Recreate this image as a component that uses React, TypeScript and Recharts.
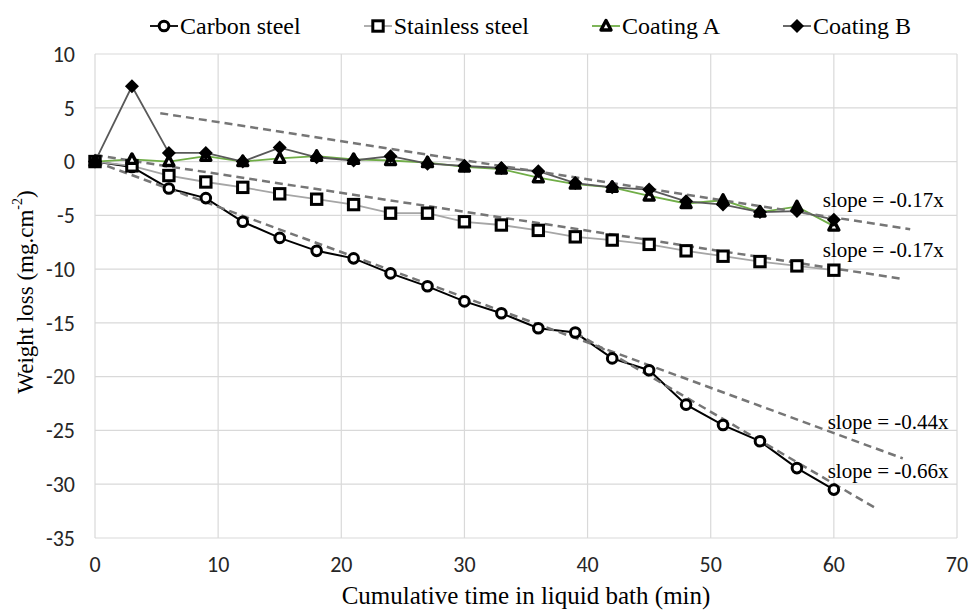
import {
  LineChart,
  Line,
  XAxis,
  YAxis,
  CartesianGrid,
  ReferenceDot,
  Label,
} from 'recharts'

// time (min) at each weighing
const times = [0, 3, 6, 9, 12, 15, 18, 21, 24, 27, 30, 33, 36, 39, 42, 45, 48, 51, 54, 57, 60]

// weight loss (mg.cm-2)
const carbonSteel = [0, -0.5, -2.5, -3.4, -5.6, -7.1, -8.3, -9.0, -10.4, -11.6, -13.0, -14.1, -15.5, -15.9, -18.3, -19.4, -22.6, -24.5, -26.0, -28.5, -30.5]
const stainlessSteel = [0, -0.4, -1.3, -1.9, -2.4, -3.0, -3.5, -4.0, -4.8, -4.8, -5.6, -5.9, -6.4, -7.0, -7.3, -7.7, -8.3, -8.8, -9.3, -9.7, -10.1]
const coatingA = [0, 0.2, 0.0, 0.5, 0.0, 0.3, 0.5, 0.2, 0.1, -0.1, -0.5, -0.7, -1.5, -2.1, -2.4, -3.2, -3.9, -3.6, -4.7, -4.2, -6.0]
const coatingB = [0, 7.0, 0.8, 0.8, 0.0, 1.3, 0.4, 0.1, 0.5, -0.2, -0.4, -0.6, -0.9, -2.0, -2.4, -2.6, -3.7, -4.0, -4.7, -4.6, -5.4]

// trendline end points (x, y)
const trendCoatings = [{ x: 5.3, y: 4.5 }, { x: 66.2, y: -6.3 }]
const trendStainless = [{ x: 0, y: 0.6 }, { x: 65.5, y: -10.9 }]
const trendCarbonEarly = [{ x: 0, y: 0 }, { x: 65.6, y: -27.6 }]
const trendCarbonLate = [{ x: 39, y: -15.9 }, { x: 63.5, y: -32.3 }]

const slopeTexts = ['slope = -0.17x', 'slope = -0.17x', 'slope = -0.44x', 'slope = -0.66x']

const xTicks = [0, 10, 20, 30, 40, 50, 60, 70]
const yTicks = [10, 5, 0, -5, -10, -15, -20, -25, -30, -35]

const rows = times.map((t, i) => ({
  x: t,
  carbon: carbonSteel[i],
  stainless: stainlessSteel[i],
  coatingA: coatingA[i],
  coatingB: coatingB[i],
}))

// where the slope notes sit, in data units
const slopeSpots = [
  { x: 59.1, y: -3.6 },
  { x: 59.1, y: -8.2 },
  { x: 59.5, y: -24.2 },
  { x: 59.5, y: -28.75 },
]

const SERIF = '"Liberation Serif", "Times New Roman", serif'
const SANS = 'Carlito, "Open Sans", sans-serif'
const TREND = '#767676'

const CircleMark = ({ cx, cy }: any) => (
  <circle cx={cx} cy={cy} r={4.8} fill="#fff" stroke="#000" strokeWidth={3} />
)
const SquareMark = ({ cx, cy }: any) => (
  <rect x={cx - 5.2} y={cy - 5.2} width={10.4} height={10.4} fill="#fff" stroke="#000" strokeWidth={3} />
)
const TriangleMark = ({ cx, cy }: any) => (
  <polygon
    points={`${cx},${cy - 5.5} ${cx + 5},${cy + 4} ${cx - 5},${cy + 4}`}
    fill="#fff"
    stroke="#000"
    strokeWidth={3.4}
    strokeLinejoin="round"
  />
)
const DiamondMark = ({ cx, cy }: any) => (
  <polygon points={`${cx},${cy - 7} ${cx + 7},${cy} ${cx},${cy + 7} ${cx - 7},${cy}`} fill="#000" />
)

const series = [
  { key: 'carbon', name: 'Carbon steel', color: '#000000', width: 2, Mark: CircleMark },
  { key: 'stainless', name: 'Stainless steel', color: '#a6a6a6', width: 1.8, Mark: SquareMark },
  { key: 'coatingA', name: 'Coating A', color: '#70ad47', width: 1.8, Mark: TriangleMark },
  { key: 'coatingB', name: 'Coating B', color: '#595959', width: 1.8, Mark: DiamondMark },
]

const LegendRow = () => (
  <div
    style={{
      position: 'absolute',
      left: 150,
      top: 14,
      display: 'flex',
      alignItems: 'center',
      gap: 63,
      fontFamily: SERIF,
      fontSize: 24,
      lineHeight: '24px',
      color: '#000',
      whiteSpace: 'nowrap',
    }}
  >
    {series.map(({ key, name, color, Mark }) => (
      <div key={key} style={{ display: 'flex', alignItems: 'center', gap: 2 }}>
        <svg width={28} height={18}>
          <line x1={0} y1={9} x2={28} y2={9} stroke={color} strokeWidth={1.8} />
          <Mark cx={14} cy={9} />
        </svg>
        <span>{name}</span>
      </div>
    ))}
  </div>
)

const YTitle = ({ viewBox }: any) => {
  const cx = viewBox.x + 25
  const cy = viewBox.y + viewBox.height / 2 - 4
  return (
    <text
      x={cx}
      y={cy}
      transform={`rotate(-90, ${cx}, ${cy})`}
      textAnchor="middle"
      dominantBaseline="central"
      fontFamily={SERIF}
      fontSize={23}
      fill="#000"
    >
      Weight loss (mg.cm
      <tspan baselineShift="super" fontSize={14}>-2</tspan>)
    </text>
  )
}

const XTitle = ({ viewBox }: any) => (
  <text
    x={viewBox.x + viewBox.width / 2}
    y={viewBox.y + 66}
    textAnchor="middle"
    fontFamily={SERIF}
    fontSize={25}
    fill="#000"
  >
    Cumulative time in liquid bath (min)
  </text>
)

export default function App() {
  return (
    <div style={{ position: 'absolute', left: 0, top: 0, width: 979, height: 613, background: '#fff' }}>
      <LegendRow />
      <LineChart width={979} height={613} data={rows} margin={{ top: 54, right: 22, bottom: 0, left: 0 }}>
        <CartesianGrid stroke="#d9d9d9" strokeWidth={1.2} />
        <XAxis
          type="number"
          dataKey="x"
          domain={[0, 70]}
          ticks={xTicks}
          interval={0}
          height={75}
          axisLine={false}
          tickLine={false}
          tickMargin={12}
          tick={{ fontFamily: SANS, fontSize: 22, fill: '#262626' }}
        >
          <Label content={<XTitle />} />
        </XAxis>
        <YAxis
          type="number"
          domain={[-35, 10]}
          ticks={yTicks}
          interval={0}
          width={95}
          axisLine={false}
          tickLine={false}
          tickMargin={14}
          tick={{ fontFamily: SANS, fontSize: 22, fill: '#262626' }}
        >
          <Label content={<YTitle />} />
        </YAxis>

        {series.map(({ key, color, width, Mark }) => (
          <Line
            key={key}
            type="linear"
            dataKey={key}
            stroke={color}
            strokeWidth={width}
            dot={(p: any) => <Mark key={`${key}-${p.index}`} cx={p.cx} cy={p.cy} />}
            activeDot={false}
            isAnimationActive={false}
          />
        ))}

        {[trendCoatings, trendStainless, trendCarbonEarly, trendCarbonLate].map((d, i) => (
          <Line
            key={`trend-${i}`}
            data={d}
            dataKey="y"
            type="linear"
            stroke={TREND}
            strokeWidth={2.5}
            strokeDasharray="8 5"
            dot={false}
            activeDot={false}
            isAnimationActive={false}
          />
        ))}

        {slopeSpots.map((s, i) => (
          <ReferenceDot
            key={`slope-${i}`}
            x={s.x}
            y={s.y}
            r={0}
            shape={(p: any) => (
              <text
                x={p.cx}
                y={p.cy}
                dominantBaseline="central"
                fontFamily={SERIF}
                fontSize={21}
                fill="#000"
              >
                {slopeTexts[i]}
              </text>
            )}
          />
        ))}
      </LineChart>
    </div>
  )
}
